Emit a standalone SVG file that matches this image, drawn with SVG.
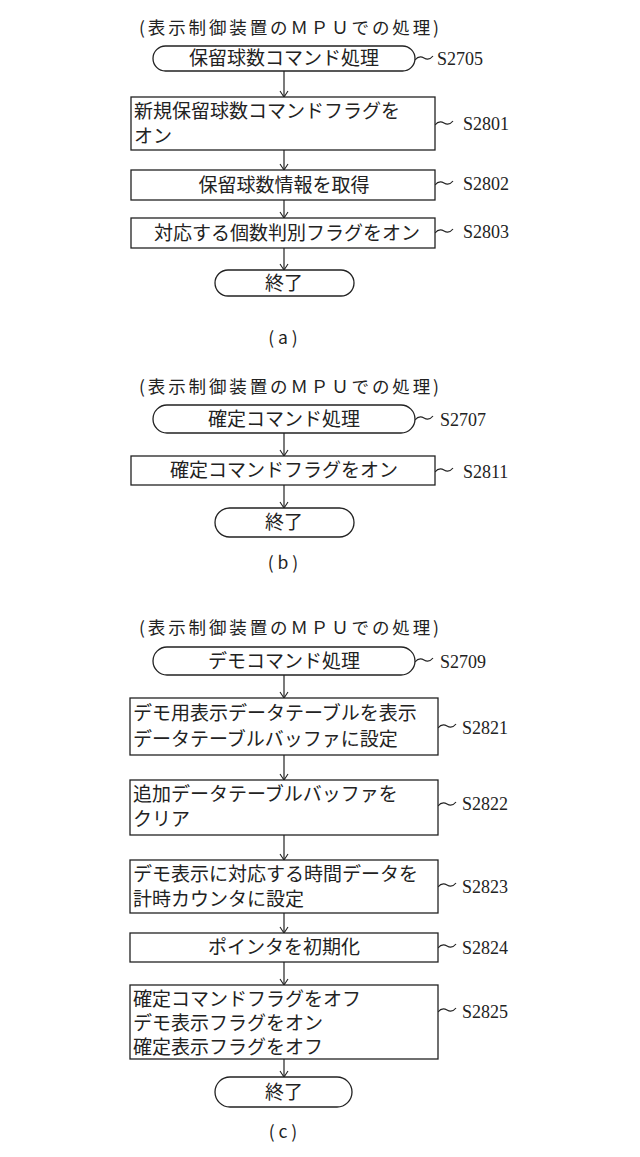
<svg xmlns="http://www.w3.org/2000/svg" width="640" height="1157" viewBox="0 0 640 1157">
<defs>
<marker id="ah" markerWidth="10" markerHeight="10" refX="9" refY="5" orient="auto" markerUnits="userSpaceOnUse">
<path d="M3,1 L9,5 L3,9" fill="none" stroke="#222" stroke-width="1.1"/>
</marker>
<style>
.b{fill:#fff;stroke:#222;stroke-width:1.3}
.t{font-family:"Noto Sans CJK JP",sans-serif;font-size:19px;fill:#222}
.h{font-family:"Noto Sans CJK JP",sans-serif;font-size:17.5px;fill:#222}
.l{font-family:"Liberation Serif",serif;font-size:18px;fill:#222}
.c{stroke:#222;stroke-width:1.2;fill:none}
.a{stroke:#222;stroke-width:1.2;fill:none;marker-end:url(#ah)}
</style>
</defs>
<rect width="640" height="1157" fill="#fff"/>
<g id="titles">
<text class="h" x="289" y="34" text-anchor="middle" textLength="300">(表示制御装置のＭＰＵでの処理)</text>
<text class="h" x="283" y="344" text-anchor="middle">( a )</text>
<text class="h" x="289" y="393" text-anchor="middle" textLength="300">(表示制御装置のＭＰＵでの処理)</text>
<text class="h" x="283" y="569" text-anchor="middle">( b )</text>
<text class="h" x="289" y="634" text-anchor="middle" textLength="300">(表示制御装置のＭＰＵでの処理)</text>
<text class="h" x="283" y="1138" text-anchor="middle">( c )</text>
</g>
<g id="connectors">
<path class="a" d="M284,71 V97"/><path class="a" d="M284,150 V170"/><path class="a" d="M284,200 V218"/><path class="a" d="M284,248 V270"/>
<path class="a" d="M284,433 V456"/><path class="a" d="M284,485 V508"/>
<path class="a" d="M284,675 V698"/><path class="a" d="M284,755 V780"/><path class="a" d="M284,835 V860"/><path class="a" d="M284,913 V933"/><path class="a" d="M284,962 V985"/><path class="a" d="M284,1059 V1077"/>
<path class="c" d="M415,60 q4,-5 9,-2 t9,-2"/><path class="c" d="M435,125 q4,-5 9,-2 t9,-2"/><path class="c" d="M435,185 q4,-5 9,-2 t9,-2"/><path class="c" d="M435,233 q4,-5 9,-2 t9,-2"/>
<path class="c" d="M415,420 q4,-5 9,-2 t9,-2"/><path class="c" d="M435,472 q4,-5 9,-2 t9,-2"/>
<path class="c" d="M415,662 q4,-5 9,-2 t9,-2"/><path class="c" d="M438,728 q4,-5 9,-2 t9,-2"/><path class="c" d="M438,806 q4,-5 9,-2 t9,-2"/><path class="c" d="M438,887 q4,-5 9,-2 t9,-2"/><path class="c" d="M438,948 q4,-5 9,-2 t9,-2"/><path class="c" d="M438,1012 q4,-5 9,-2 t9,-2"/>
</g>
<g id="S2705"><rect class="b" x="153" y="46" width="262" height="25" rx="12.5"/><text class="t" x="284" y="65" text-anchor="middle">保留球数コマンド処理</text><text class="l" x="437" y="65">S2705</text></g>
<g id="S2801"><rect class="b" x="131" y="97" width="304" height="53"/><text class="t" x="134" y="118">新規保留球数コマンドフラグを</text><text class="t" x="134" y="143">オン</text><text class="l" x="463" y="130">S2801</text></g>
<g id="S2802"><rect class="b" x="131" y="170" width="304" height="30"/><text class="t" x="284" y="192" text-anchor="middle">保留球数情報を取得</text><text class="l" x="463" y="190">S2802</text></g>
<g id="S2803"><rect class="b" x="131" y="218" width="304" height="30"/><text class="t" x="287" y="240" text-anchor="middle">対応する個数判別フラグをオン</text><text class="l" x="463" y="238">S2803</text></g>
<g id="endA"><rect class="b" x="215" y="270" width="139" height="26" rx="13"/><text class="t" x="284" y="290" text-anchor="middle">終了</text></g>
<g id="S2707"><rect class="b" x="153" y="405" width="262" height="28" rx="14"/><text class="t" x="284" y="426" text-anchor="middle">確定コマンド処理</text><text class="l" x="440" y="426">S2707</text></g>
<g id="S2811"><rect class="b" x="131" y="456" width="304" height="29"/><text class="t" x="284" y="477" text-anchor="middle">確定コマンドフラグをオン</text><text class="l" x="463" y="478">S2811</text></g>
<g id="endB"><rect class="b" x="215" y="508" width="139" height="29" rx="14.5"/><text class="t" x="284" y="529" text-anchor="middle">終了</text></g>
<g id="S2709"><rect class="b" x="153" y="647" width="262" height="28" rx="14"/><text class="t" x="284" y="668" text-anchor="middle">デモコマンド処理</text><text class="l" x="440" y="668">S2709</text></g>
<g id="S2821"><rect class="b" x="130" y="698" width="308" height="57"/><text class="t" x="133" y="720">デモ用表示データテーブルを表示</text><text class="t" x="133" y="746">データテーブルバッファに設定</text><text class="l" x="462" y="734">S2821</text></g>
<g id="S2822"><rect class="b" x="130" y="780" width="308" height="55"/><text class="t" x="133" y="801">追加データテーブルバッファを</text><text class="t" x="133" y="826">クリア</text><text class="l" x="462" y="810">S2822</text></g>
<g id="S2823"><rect class="b" x="130" y="860" width="308" height="53"/><text class="t" x="133" y="881">デモ表示に対応する時間データを</text><text class="t" x="133" y="906">計時カウンタに設定</text><text class="l" x="462" y="893">S2823</text></g>
<g id="S2824"><rect class="b" x="130" y="933" width="308" height="29"/><text class="t" x="284" y="954" text-anchor="middle">ポインタを初期化</text><text class="l" x="462" y="954">S2824</text></g>
<g id="S2825"><rect class="b" x="130" y="985" width="308" height="74"/><text class="t" x="133" y="1006">確定コマンドフラグをオフ</text><text class="t" x="133" y="1030">デモ表示フラグをオン</text><text class="t" x="133" y="1054">確定表示フラグをオフ</text><text class="l" x="462" y="1018">S2825</text></g>
<g id="endC"><rect class="b" x="215" y="1077" width="137" height="30" rx="15"/><text class="t" x="284" y="1099" text-anchor="middle">終了</text></g>
</svg>
